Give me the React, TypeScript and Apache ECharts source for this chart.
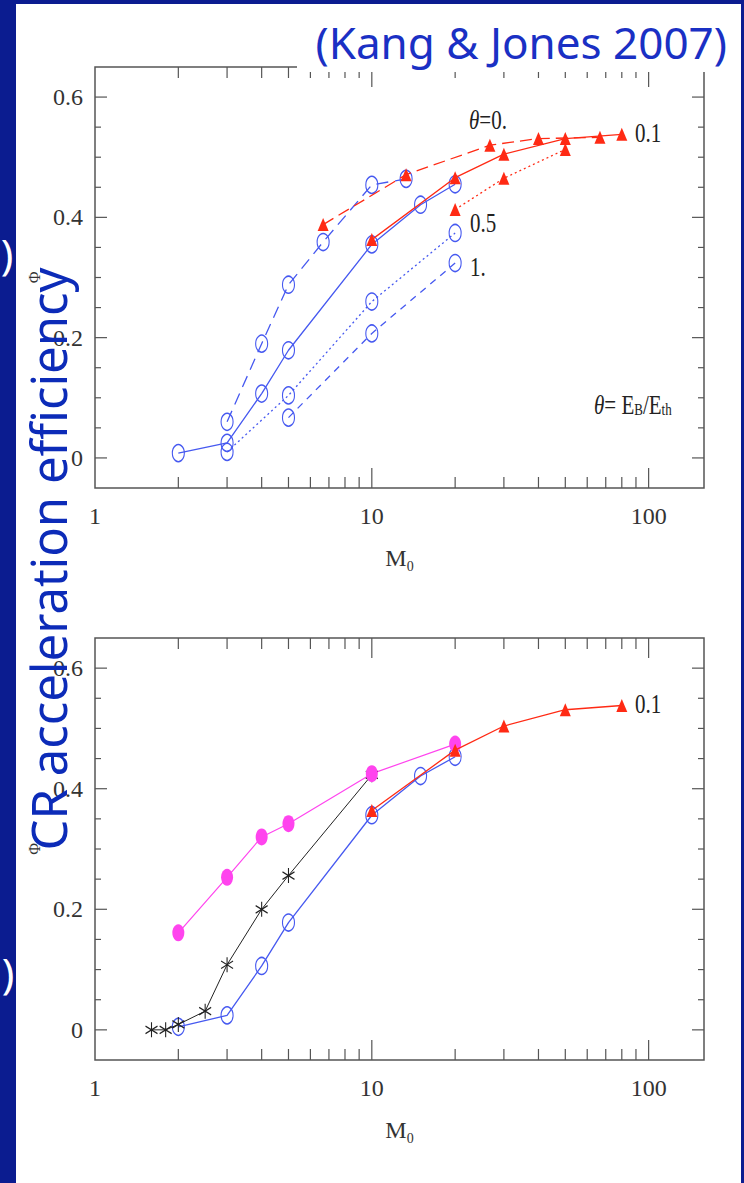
import React, { useEffect, useRef } from 'react';
import * as echarts from 'echarts';

// ---------- axis ranges and ticks ----------
const X_MIN = 1;
const X_MAX = 158.5;
const Y_MIN = -0.05;
const Y_MAX = 0.65;
const xMinorTicks = [2, 3, 4, 5, 6, 7, 8, 9, 20, 30, 40, 50, 60, 70, 80, 90];
const xMajorTicks = [10, 100];
const yMinorTicks = [0.05, 0.1, 0.15, 0.25, 0.3, 0.35, 0.45, 0.5, 0.55];
const yMajorTicks = [0, 0.2, 0.4, 0.6];

// ---------- top panel data (M0, Phi) ----------
const blueTheta01M = [2, 3, 4, 5, 10, 15, 20];
const blueTheta01Phi = [0.008, 0.025, 0.107, 0.179, 0.355, 0.421, 0.455];
const blueTheta0M = [3, 4, 5, 6.67, 10, 13.3];
const blueTheta0Phi = [0.06, 0.19, 0.288, 0.359, 0.454, 0.464];
const blueTheta05M = [3, 5, 10, 20];
const blueTheta05Phi = [0.01, 0.104, 0.26, 0.374];
const blueTheta1M = [5, 10, 20];
const blueTheta1Phi = [0.067, 0.207, 0.324];
const redTheta0M = [6.67, 13.3, 26.7, 40, 66.7];
const redTheta0Phi = [0.388, 0.471, 0.52, 0.531, 0.533];
const redTheta01M = [10, 20, 30, 50, 80];
const redTheta01Phi = [0.363, 0.466, 0.505, 0.531, 0.538];
const redTheta05M = [20, 30, 50];
const redTheta05Phi = [0.413, 0.465, 0.513];

// ---------- bottom panel data ----------
const magentaM = [2, 3, 4, 5, 10, 20];
const magentaPhi = [0.161, 0.253, 0.32, 0.342, 0.425, 0.474];
const blackM = [1.6, 1.8, 2, 2.5, 3, 4, 5, 10];
const blackPhi = [0, 0, 0.009, 0.031, 0.108, 0.2, 0.256, 0.423];
const blueBottomM = [2, 3, 4, 5, 10, 15, 20];
const blueBottomPhi = [0.005, 0.024, 0.106, 0.178, 0.356, 0.421, 0.453];
const redBottomM = [10, 20, 30, 50, 80];
const redBottomPhi = [0.364, 0.464, 0.504, 0.531, 0.538];

const BLUE = '#4659f0';
const RED = '#ff2a14';
const MAGENTA = '#ff44ee';
const BLACK = '#222222';
const AXIS = '#555555';
const SERIF = 'Liberation Serif';
const SANS = 'Noto Sans';
const ASTERISK = 'path://M5,0L5,10M0.67,2.5L9.33,7.5M9.33,2.5L0.67,7.5';

const zip = (xs: number[], ys: number[]) => xs.map((x, i) => [x, ys[i]]);

const tickItems = [
  ...xMinorTicks.map((v) => [v, 0, 0]),
  ...xMajorTicks.map((v) => [v, 0, 1]),
  ...yMinorTicks.map((v) => [X_MIN, v, 2]),
  ...yMajorTicks.map((v) => [X_MIN, v, 3]),
];

function tickSeries(idx: number) {
  return {
    type: 'custom',
    xAxisIndex: idx,
    yAxisIndex: idx,
    silent: true,
    clip: false,
    z: 1,
    dimensions: ['x', 'y', 'k'],
    encode: { x: 0, y: 1 },
    data: tickItems,
    renderItem: (_params: any, api: any) => {
      const k = api.value(2);
      const st = { stroke: AXIS, lineWidth: 1.2 };
      if (k < 2) {
        const xv = api.value(0);
        const b = api.coord([xv, Y_MIN]);
        const t = api.coord([xv, Y_MAX]);
        const len = k === 1 ? 20 : 11;
        return {
          type: 'group',
          children: [
            { type: 'line', shape: { x1: b[0], y1: b[1], x2: b[0], y2: b[1] - len }, style: st },
            { type: 'line', shape: { x1: t[0], y1: t[1], x2: t[0], y2: t[1] + len }, style: st },
          ],
        };
      }
      const yv = api.value(1);
      const l = api.coord([X_MIN, yv]);
      const r = api.coord([X_MAX, yv]);
      const len = k === 3 ? 12 : 6;
      return {
        type: 'group',
        children: [
          { type: 'line', shape: { x1: l[0], y1: l[1], x2: l[0] + len, y2: l[1] }, style: st },
          { type: 'line', shape: { x1: r[0], y1: r[1], x2: r[0] - len, y2: r[1] }, style: st },
        ],
      };
    },
  };
}

function lineSeries(idx: number, xs: number[], ys: number[], o: any) {
  return {
    type: 'line',
    xAxisIndex: idx,
    yAxisIndex: idx,
    data: zip(xs, ys),
    silent: true,
    symbol: o.symbol,
    symbolSize: o.symbolSize,
    showSymbol: true,
    z: o.z ?? 3,
    lineStyle: { color: o.color, width: o.width ?? 1.3, type: o.dash ?? 'solid' },
    itemStyle: o.itemStyle,
    emphasis: { disabled: true },
  };
}

const circleStyle = { color: 'rgba(255,255,255,0)', borderColor: BLUE, borderWidth: 1.3 };
const triStyle = { color: RED };
const magStyle = { color: MAGENTA };
const astStyle = { color: 'rgba(0,0,0,0)', borderColor: BLACK, borderWidth: 1.2 };

function xAxisFor(idx: number) {
  return {
    type: 'log',
    logBase: 10,
    gridIndex: idx,
    min: X_MIN,
    max: X_MAX,
    axisLine: { show: false },
    axisTick: { show: false },
    splitLine: { show: false },
    axisLabel: {
      margin: 16,
      fontFamily: SERIF,
      fontSize: 24,
      color: '#333',
      formatter: (v: number) => {
        const l = Math.log10(v);
        return Math.abs(l - Math.round(l)) < 1e-6 ? String(Math.round(v)) : '';
      },
    },
    name: '{m|M}{s|0}',
    nameLocation: 'middle',
    nameGap: 55,
    nameTextStyle: {
      rich: {
        m: { fontFamily: SERIF, fontSize: 24, color: '#333', lineHeight: 30 },
        s: { fontFamily: SERIF, fontSize: 14, color: '#333', lineHeight: 12, verticalAlign: 'bottom' },
      },
    },
  };
}

function yAxisFor(idx: number) {
  return {
    type: 'value',
    gridIndex: idx,
    min: Y_MIN,
    max: Y_MAX,
    interval: 0.05,
    axisLine: { show: false },
    axisTick: { show: false },
    splitLine: { show: false },
    axisLabel: {
      margin: 12,
      fontFamily: SERIF,
      fontSize: 24,
      color: '#333',
      formatter: (v: number) => {
        const q = v / 0.2;
        return Math.abs(q - Math.round(q)) < 1e-6 ? String(Math.round(v * 10) / 10) : '';
      },
    },
    name: 'Φ',
    nameLocation: 'middle',
    nameGap: 49,
    nameTextStyle: { fontFamily: SERIF, fontSize: 16, color: '#333' },
  };
}

function label(text: string, x: number, y: number, extra: any = {}) {
  return {
    type: 'text',
    x,
    y,
    scaleY: 1.3,
    z: 40,
    silent: true,
    style: {
      text,
      fontFamily: SERIF,
      fontSize: 21,
      fill: '#222',
      align: 'left',
      textAlign: 'left',
      verticalAlign: 'middle',
      textVerticalAlign: 'middle',
      rich: {
        i: { fontFamily: SERIF, fontSize: 21, fontStyle: 'italic', fill: '#222', color: '#222' },
        s: { fontFamily: SERIF, fontSize: 13, fill: '#222', color: '#222', lineHeight: 10, verticalAlign: 'bottom' },
        n: { fontFamily: SERIF, fontSize: 21, fill: '#222', color: '#222', lineHeight: 24 },
      },
      ...extra,
    },
  };
}

export default function App() {
  const ref = useRef<HTMLDivElement>(null);
  useEffect(() => {
    if (!ref.current) return;
    const chart = echarts.init(ref.current, null, { renderer: 'svg', width: 744, height: 1183 });
    const option: any = {
      animation: false,
      backgroundColor: 'transparent',
      grid: [
        { left: 95, top: 67, width: 609, height: 421, show: true, borderColor: AXIS, borderWidth: 1.5, backgroundColor: 'transparent' },
        { left: 95, top: 638, width: 609, height: 422, show: true, borderColor: AXIS, borderWidth: 1.5, backgroundColor: 'transparent' },
      ],
      xAxis: [xAxisFor(0), xAxisFor(1)],
      yAxis: [yAxisFor(0), yAxisFor(1)],
      series: [
        tickSeries(0),
        tickSeries(1),
        // top panel
        lineSeries(0, blueTheta01M, blueTheta01Phi, { color: BLUE, symbol: 'circle', symbolSize: [12, 17], itemStyle: circleStyle }),
        lineSeries(0, blueTheta0M, blueTheta0Phi, { color: BLUE, dash: [12, 7], symbol: 'circle', symbolSize: [12, 17], itemStyle: circleStyle }),
        lineSeries(0, blueTheta05M, blueTheta05Phi, { color: BLUE, dash: [2, 3], symbol: 'circle', symbolSize: [12, 17], itemStyle: circleStyle }),
        lineSeries(0, blueTheta1M, blueTheta1Phi, { color: BLUE, dash: [7, 6], symbol: 'circle', symbolSize: [12, 17], itemStyle: circleStyle }),
        lineSeries(0, redTheta0M, redTheta0Phi, { color: RED, dash: [12, 6], symbol: 'triangle', symbolSize: [11, 13], itemStyle: triStyle, z: 4 }),
        lineSeries(0, redTheta01M, redTheta01Phi, { color: RED, symbol: 'triangle', symbolSize: [11, 13], itemStyle: triStyle, z: 4 }),
        lineSeries(0, redTheta05M, redTheta05Phi, { color: RED, dash: [2, 3], symbol: 'triangle', symbolSize: [11, 13], itemStyle: triStyle, z: 4 }),
        // bottom panel
        lineSeries(1, blueBottomM, blueBottomPhi, { color: BLUE, symbol: 'circle', symbolSize: [12, 17], itemStyle: circleStyle }),
        lineSeries(1, blackM, blackPhi, { color: BLACK, width: 1, symbol: ASTERISK, symbolSize: [12, 15], itemStyle: astStyle, z: 4 }),
        lineSeries(1, magentaM, magentaPhi, { color: MAGENTA, width: 1.2, symbol: 'circle', symbolSize: [12, 17], itemStyle: magStyle, z: 4 }),
        lineSeries(1, redBottomM, redBottomPhi, { color: RED, symbol: 'triangle', symbolSize: [11, 13], itemStyle: triStyle, z: 5 }),
      ],
      graphic: [
        // white slide panel
        { type: 'rect', silent: true, z: -10, shape: { x: 16, y: 4, width: 725, height: 1179 }, style: { fill: '#ffffff' } },
        // white box behind the citation
        { type: 'rect', silent: true, z: 50, shape: { x: 297, y: 4, width: 444, height: 68 }, style: { fill: '#ffffff' } },
        {
          type: 'text', silent: true, z: 51, x: 727, y: 42,
          style: {
            text: '(Kang & Jones 2007)', fontFamily: SANS, fontSize: 44, fill: '#1a30c4',
            align: 'right', textAlign: 'right', verticalAlign: 'middle', textVerticalAlign: 'middle',
          },
        },
        // annotations
        label('{i|θ}=0.', 469, 119),
        label('0.1', 635, 132),
        label('0.5', 470, 222),
        label('1.', 470, 266),
        label('{i|θ}= E{s|B}/E{s|th}', 594, 404),
        label('0.1', 635, 703),
        // slide text fragments at left edge
        {
          type: 'text', silent: true, z: 55, x: 7, y: 253,
          style: { text: ')', fontFamily: SANS, fontSize: 42, fill: '#ffffff', align: 'center', textAlign: 'center', verticalAlign: 'middle', textVerticalAlign: 'middle' },
        },
        {
          type: 'text', silent: true, z: 55, x: 8, y: 972,
          style: { text: ')', fontFamily: SANS, fontSize: 42, fill: '#ffffff', align: 'center', textAlign: 'center', verticalAlign: 'middle', textVerticalAlign: 'middle' },
        },
        // big rotated y caption
        {
          type: 'text', silent: true, z: 60, x: 48, y: 559, rotation: Math.PI / 2,
          style: {
            text: 'CR acceleration efficiency', fontFamily: SANS, fontSize: 49, fill: '#0c2bb8',
            align: 'center', textAlign: 'center', verticalAlign: 'middle', textVerticalAlign: 'middle',
          },
        },
      ],
    };
    chart.setOption(option);
    return () => chart.dispose();
  }, []);
  return (
    <div
      ref={ref}
      style={{ position: 'absolute', left: 0, top: 0, width: 744, height: 1183, background: '#0b1c90' }}
    />
  );
}
